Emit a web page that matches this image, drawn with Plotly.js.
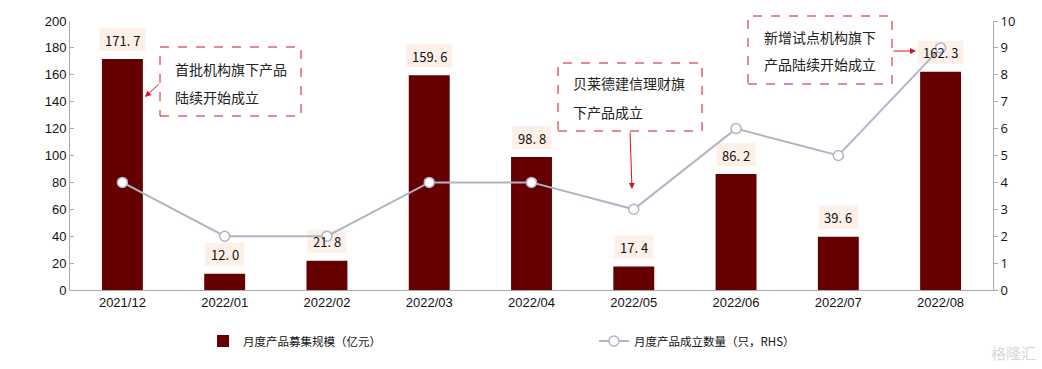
<!DOCTYPE html>
<html><head><meta charset="utf-8">
<script src="https://cdn.plot.ly/plotly-3.0.1.min.js"></script>
<style>html,body{margin:0;padding:0;background:#fff;}#chart{width:1042px;height:369px;}</style>
</head><body><div id="chart"></div>
<script>
const categories = ["2021/12","2022/01","2022/02","2022/03","2022/04","2022/05","2022/06","2022/07","2022/08"];
const fundSize = [171.7, 12.0, 21.8, 159.6, 98.8, 17.4, 86.2, 39.6, 162.3];
const productCount = [4, 2, 2, 4, 4, 3, 6, 5, 9];
const labelIdx = [0,1,2,3,4,5,6,7,8];
const leftTicks = [0,20,40,60,80,100,120,140,160,180,200];
const rightTicks = [0,1,2,3,4,5,6,7,8,9,10];

const cjk = '"Microsoft YaHei","Noto Sans CJK SC",sans-serif';
const red = '#d0161e';

const traces = [
  {type:'bar', x:categories, y:fundSize, name:'月度产品募集规模（亿元）',
   marker:{color:'#640000'}, width:0.4, yaxis:'y'},
  {type:'scatter', mode:'lines+markers', x:categories, y:productCount, name:'月度产品成立数量（只，RHS）',
   yaxis:'y2', line:{color:'#b3b3c6', width:2},
   marker:{symbol:'circle', size:10, color:'#ffffff', line:{color:'#b3b3c6', width:1.5}}}
];

const labelText = i => fundSize[i].toFixed(1).replace('.', '. ');

const annotations = labelIdx.map(i => ({
  x: categories[i], y: fundSize[i], xref:'x', yref:'y', yshift:19,
  text: labelText(i), showarrow:false,
  font:{family:cjk, size:13, color:'#111'}
}));

function txt(x, y, t){ return {xref:'paper', yref:'paper', x:(x-70)/923, y:(290-y)/269, xanchor:'left', yanchor:'middle',
  text:t, showarrow:false, font:{family:cjk, size:14, color:'#222'}}; }
function arrow(hx, hy, tx, ty){ return {xref:'paper', yref:'paper', x:(hx-70)/923, y:(290-hy)/269, ax:tx-hx, ay:ty-hy,
  text:'', showarrow:true, arrowhead:2, arrowsize:1.2, arrowwidth:1, arrowcolor:red}; }

annotations.push(
  txt(173, 69, '首批机构旗下产品'), txt(173, 97, '陆续开始成立'),
  txt(571, 83, '贝莱德建信理财旗'), txt(571, 112, '下产品成立'),
  txt(762, 37, '新增试点机构旗下'), txt(762, 64, '产品陆续开始成立'),
  arrow(145, 97, 160, 83), arrow(632, 189, 630, 131), arrow(916, 51, 892, 51),
  {xref:'paper', yref:'paper', x:(1038-70)/923, y:(290-352)/269, xanchor:'right', yanchor:'middle',
   text:'格隆汇', showarrow:false, font:{family:cjk, size:15, color:'#d8d8d8'}}
);

function box(x0,y0,x1,y1){ return {type:'rect', xref:'paper', yref:'paper',
  x0:(x0-70)/923, x1:(x1-70)/923, y0:(290-y1)/269, y1:(290-y0)/269,
  line:{color:red, width:1, dash:'dash'}, fillcolor:'rgba(255,255,255,1)', layer:'above'}; }

const labelBgs = labelIdx.map(i => {
  const hw = (fundSize[i].toFixed(1).length * 7 + 11) / 2;
  return {type:'rect', xref:'x', yref:'y', layer:'below',
    xsizemode:'pixel', xanchor:i, x0:-hw, x1:hw,
    ysizemode:'pixel', yanchor:fundSize[i], y0:8, y1:31,
    fillcolor:'#fcf0e8', line:{width:0}};
});

const layout = {
  width:1042, height:369, margin:{l:70, r:49, t:21, b:79, autoexpand:false},
  paper_bgcolor:'#fff', plot_bgcolor:'#fff', bargap:0.6,
  showlegend:true,
  legend:{orientation:'h', x:(203-70)/923, y:(290-341)/269, xanchor:'left', yanchor:'middle',
          entrywidth:346, entrywidthmode:'pixels', font:{family:cjk, size:11.5, color:'#111'}, traceorder:'normal'},
  xaxis:{type:'category', showline:true, linecolor:'#aaaaaa', linewidth:1, ticks:'', showgrid:false,
         tickfont:{family:'"Liberation Sans",Arial,sans-serif', size:13, color:'#111'}},
  yaxis:{range:[0,200], tickvals:leftTicks, showline:true, linecolor:'#aaaaaa', ticks:'inside', ticklen:4, tickcolor:'#aaaaaa',
         showgrid:false, zeroline:false, tickfont:{family:'"Liberation Sans",Arial,sans-serif', size:13, color:'#111'}},
  yaxis2:{range:[0,10], tickvals:rightTicks, overlaying:'y', side:'right', showline:true, linecolor:'#aaaaaa',
          ticks:'outside', ticklen:4, tickcolor:'#aaaaaa', showgrid:false, zeroline:false,
          tickfont:{family:'"Open Sans",sans-serif', size:13, color:'#111'}},
  shapes:labelBgs.concat([box(160,47,301,116), box(558,63,702,131), box(748,16,892,84)]),
  annotations: annotations
};
Plotly.newPlot('chart', traces, layout, {displayModeBar:false, staticPlot:true});
</script></body></html>
